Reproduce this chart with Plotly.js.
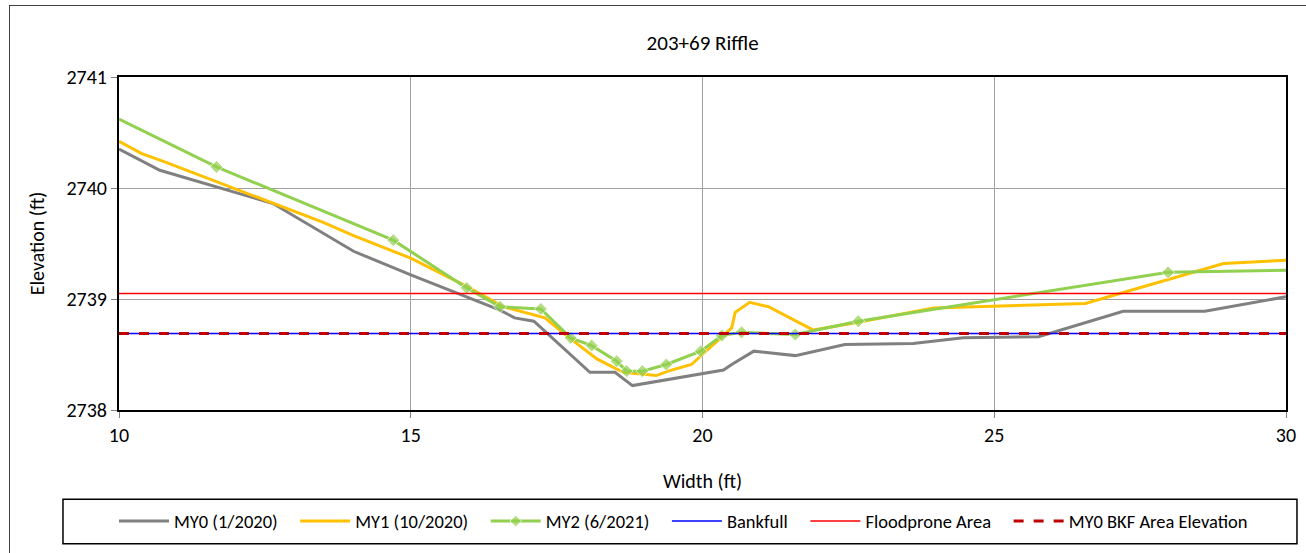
<!DOCTYPE html>
<html>
<head>
<meta charset="utf-8">
<script src="https://cdn.plot.ly/plotly-3.0.1.min.js"></script>
<style>
  body { margin: 0; background: #fff; }
  #frame { position: absolute; left: 9px; top: 5px; width: 1320px; height: 570px; border: 1.5px solid #404040; }
  #chart { position: absolute; left: 0; top: 0; width: 1306px; height: 553px; }
</style>
</head>
<body>
<div id="frame"></div>
<div id="chart"></div>
<script>
// MY0 (1/2020)
const my0X = [10.0, 10.70, 12.64, 14.02, 14.99, 16.53, 16.78, 17.11, 18.07, 18.50, 18.80, 20.36, 20.50, 20.88, 21.59, 22.44, 23.61, 24.47, 25.76, 27.21, 28.61, 30.0];
const my0Y = [2740.35, 2740.16, 2739.86, 2739.43, 2739.22, 2738.90, 2738.83, 2738.80, 2738.34, 2738.34, 2738.22, 2738.36, 2738.41, 2738.53, 2738.49, 2738.59, 2738.60, 2738.65, 2738.66, 2738.89, 2738.89, 2739.02];
// MY1 (10/2020)
const my1X = [10.0, 10.39, 10.76, 12.64, 13.50, 14.02, 14.99, 15.90, 16.59, 17.30, 17.67, 18.19, 18.64, 19.21, 19.41, 19.81, 20.36, 20.50, 20.56, 20.81, 21.13, 21.90, 22.67, 23.96, 26.56, 27.95, 28.93, 30.0];
const my1Y = [2740.42, 2740.31, 2740.24, 2739.86, 2739.69, 2739.57, 2739.37, 2739.13, 2738.93, 2738.83, 2738.67, 2738.46, 2738.34, 2738.31, 2738.35, 2738.41, 2738.67, 2738.74, 2738.88, 2738.97, 2738.93, 2738.72, 2738.79, 2738.92, 2738.96, 2739.17, 2739.32, 2739.35];
// MY2 (6/2021)
const my2X = [10.0, 11.67, 14.70, 15.96, 16.53, 17.23, 17.74, 18.10, 18.53, 18.70, 18.97, 19.38, 19.97, 20.33, 20.67, 21.59, 22.67, 27.98, 30.0];
const my2Y = [2740.62, 2740.19, 2739.53, 2739.10, 2738.93, 2738.91, 2738.65, 2738.58, 2738.44, 2738.35, 2738.35, 2738.41, 2738.53, 2738.67, 2738.70, 2738.68, 2738.80, 2739.24, 2739.26];
// Reference elevations
const refX = [10, 30];
const bankfullY = [2738.69, 2738.69];
const floodproneY = [2739.05, 2739.05];
const bkfAreaY = [2738.69, 2738.69];

const seriesNames = ['MY0 (1/2020)', 'MY1 (10/2020)', 'MY2 (6/2021)', 'Bankfull', 'Floodprone Area', 'MY0 BKF Area Elevation'];

const xTicks = [10, 15, 20, 25, 30];
const yTicks = [2738, 2739, 2740, 2741];

const font = "Carlito, 'Liberation Sans', Arial, sans-serif";
const xMin = 10, xMax = 30;
const pad = '\u00A0\u00A0\u00A0';

const traces = [
  { x: my0X, y: my0Y, name: seriesNames[0] + pad, mode: 'lines', line: { color: '#808080', width: 3 } },
  { x: my1X, y: my1Y, name: seriesNames[1] + pad, mode: 'lines', line: { color: '#FFC000', width: 3 } },
  { x: my2X, y: my2Y, name: seriesNames[2] + pad, mode: 'lines+markers', line: { color: '#92D050', width: 3 },
    marker: { symbol: 'diamond', size: my2X.map(v => (v <= xMin || v >= xMax) ? 0 : 10), color: '#92D050' } },
  { x: refX, y: bankfullY, name: seriesNames[3] + pad, mode: 'lines', line: { color: '#0000FF', width: 1.5 } },
  { x: refX, y: floodproneY, name: seriesNames[4] + pad, mode: 'lines', line: { color: '#FF0000', width: 1.5 } },
  { x: refX, y: bkfAreaY, name: seriesNames[5], mode: 'lines', line: { color: '#C00000', width: 3, dash: '10px,10px' } }
];

const layout = {
  width: 1306, height: 553,
  paper_bgcolor: 'rgba(0,0,0,0)', plot_bgcolor: '#fff',
  margin: { l: 119, r: 20, t: 77, b: 140 },
  font: { family: font, size: 20, color: '#000' },
  title: { text: '203+69 Riffle', x: 0.538, xanchor: 'center', y: 0.922, yanchor: 'middle', font: { family: font, size: 21, color: '#000' } },
  xaxis: {
    range: [xMin, xMax], tickvals: xTicks, ticktext: xTicks.map(String),
    showgrid: true, gridcolor: '#A0A0A0', gridwidth: 1,
    showline: true, linecolor: '#000', linewidth: 2, mirror: true,
    ticks: 'outside', ticklen: 6, tickcolor: '#808080',
    zeroline: false,
    title: { text: 'Width (ft)', standoff: 28, font: { family: font, size: 20 } }
  },
  yaxis: {
    range: [2738, 2741], tickvals: yTicks, ticktext: yTicks.map(String),
    showgrid: true, gridcolor: '#A0A0A0', gridwidth: 1,
    showline: true, linecolor: '#000', linewidth: 2, mirror: true,
    ticks: 'outside', ticklen: 6, tickcolor: '#808080',
    zeroline: false,
    title: { text: 'Elevation (ft)', standoff: 16, font: { family: font, size: 20 } }
  },
  showlegend: true,
  legend: {
    orientation: 'h', x: 0.4837, xanchor: 'center', y: -0.335, yanchor: 'middle',
    font: { family: font, size: 18.5 }, bgcolor: 'rgba(0,0,0,0)', borderwidth: 0,
    itemwidth: 50, tracegroupgap: 0
  },
  shapes: [
    { type: 'rect', xref: 'paper', yref: 'paper', x0: -0.048, x1: 1.0094, y0: -0.268, y1: -0.402,
      line: { color: '#000', width: 1.5 }, fillcolor: 'rgba(0,0,0,0)' }
  ]
};

Plotly.newPlot('chart', traces, layout, { displayModeBar: false, staticPlot: true });
</script>
</body>
</html>
